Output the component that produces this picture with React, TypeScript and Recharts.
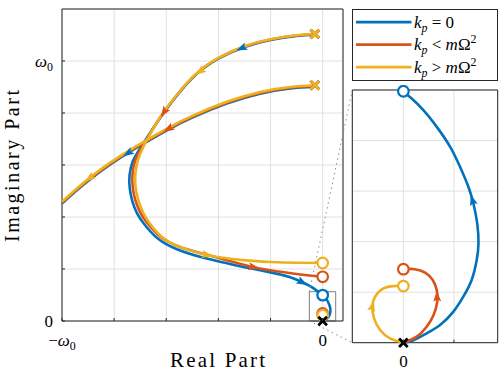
import React from 'react';
import {
  ComposedChart, Line, Scatter, XAxis, YAxis, CartesianGrid, ReferenceArea, ReferenceLine,
} from 'recharts';

const BLUE = '#0072BD';
const RED = '#D95319';
const YELLOW = '#EDB120';
const AX = '#262626';
const GRID = '#e0e0e0';
const FONT = '"Liberation Serif", "Times New Roman", serif';

// ---------- axes / labels ----------
const mainXDomain = [-1, 0.078];
const mainYDomain = [0, 1.2];
const mainXTicks = [-1, -0.8, -0.6, -0.4, -0.2, 0];
const mainXTickLabels = ['−ω_0', '', '', '', '', '0'];
const mainYTicks = [0, 0.2, 0.4, 0.6, 0.8, 1];
const mainYTickLabels = ['0', '', '', '', '', 'ω_0'];

const insetXDomain = [-0.0202, 0.0373];
const insetYDomain = [0, 0.1];
const insetXTicks = [0, 0.02];
const insetXTickLabels = ['0', ''];
const insetYTicks = [0.02, 0.04, 0.06, 0.08];

const xLabel = 'Real Part';
const yLabel = 'Imaginary Part';
const legendLabels = ['k_p = 0', 'k_p < mΩ^2', 'k_p > mΩ^2'];

// ---------- loci (units of ω0) ----------
const blueUpper = [
  [-0.03, 1.101], [-0.1, 1.096], [-0.2, 1.081], [-0.3, 1.054], [-0.4, 1.009], [-0.5, 0.934], [-0.6, 0.814],
  [-0.654, 0.736], [-0.699, 0.666], [-0.728, 0.615], [-0.741, 0.560], [-0.740, 0.510], [-0.730, 0.460],
  [-0.712, 0.414], [-0.687, 0.376], [-0.636, 0.320], [-0.559, 0.276], [-0.457, 0.243], [-0.380, 0.225],
  [-0.304, 0.208], [-0.2, 0.187], [-0.13, 0.170], [-0.08, 0.150], [-0.045, 0.132], [-0.018, 0.113], [0, 0.1],
];
const redUpper = [
  [-0.03, 1.103], [-0.1, 1.098], [-0.2, 1.083], [-0.3, 1.056], [-0.4, 1.011], [-0.5, 0.936], [-0.6, 0.816],
  [-0.652, 0.738], [-0.694, 0.668], [-0.720, 0.615], [-0.730, 0.560], [-0.728, 0.510], [-0.718, 0.463],
  [-0.700, 0.418], [-0.675, 0.380], [-0.623, 0.325], [-0.547, 0.285], [-0.444, 0.255], [-0.35, 0.229],
  [-0.279, 0.210], [-0.2, 0.195], [-0.1, 0.181], [-0.04, 0.174], [0, 0.170],
];
const yellowUpper = [
  [-0.03, 1.104], [-0.1, 1.099], [-0.2, 1.084], [-0.3, 1.057], [-0.4, 1.012], [-0.5, 0.937], [-0.6, 0.817],
  [-0.65, 0.740], [-0.688, 0.670], [-0.710, 0.615], [-0.719, 0.560], [-0.717, 0.510], [-0.707, 0.465],
  [-0.690, 0.420], [-0.667, 0.380], [-0.624, 0.330], [-0.560, 0.290], [-0.458, 0.257], [-0.380, 0.243],
  [-0.305, 0.234], [-0.2, 0.227], [-0.1, 0.224], [0, 0.223],
];
const yellowLower = [
  [-0.03, 0.907], [-0.125, 0.900], [-0.240, 0.881], [-0.368, 0.843], [-0.496, 0.791], [-0.585, 0.747],
  [-0.687, 0.689], [-0.777, 0.634], [-0.85, 0.584], [-0.925, 0.525], [-1.0, 0.459],
];
const redLower = [
  [-0.03, 0.904], [-0.125, 0.897], [-0.240, 0.877], [-0.368, 0.839], [-0.496, 0.787], [-0.585, 0.743],
  [-0.687, 0.685], [-0.777, 0.630], [-0.85, 0.580], [-0.925, 0.521], [-1.0, 0.455],
];
const blueLower = [
  [-0.03, 0.901], [-0.125, 0.894], [-0.240, 0.874], [-0.368, 0.836], [-0.496, 0.784], [-0.585, 0.740],
  [-0.687, 0.682], [-0.777, 0.627], [-0.85, 0.577], [-0.925, 0.518], [-1.0, 0.452],
];
const blueInner = [
  [0, 0], [0.004, 0.001], [0.0092, 0.0037], [0.0145, 0.007], [0.0198, 0.0123], [0.0237, 0.0182],
  [0.027, 0.0248], [0.029, 0.0327], [0.0297, 0.0393], [0.0292, 0.0472], [0.0277, 0.0551], [0.0257, 0.0617],
  [0.0224, 0.0696], [0.0185, 0.0775], [0.0132, 0.0854], [0.0079, 0.092], [0.0033, 0.0966], [0.0007, 0.0988],
  [0, 0.0995],
];
const redInner = [
  [0, 0], [0.0053, 0.0024], [0.0092, 0.0063], [0.0119, 0.0109], [0.0134, 0.0162], [0.0132, 0.0208],
  [0.0116, 0.0248], [0.0086, 0.0277], [0.0046, 0.0291], [0, 0.0291],
];
const yellowInner = [
  [0, 0], [-0.0053, 0.0017], [-0.0092, 0.005], [-0.0116, 0.0096], [-0.0123, 0.0142], [-0.0112, 0.0182],
  [-0.0079, 0.0215], [-0.004, 0.0224], [0, 0.0224],
];

// ---------- poles (x) and zeros (o) ----------
const offsetPoles = [[-0.03, 1.104], [-0.03, 0.907]];
const originPole = [[0, 0]];
const blueZeros = [[0, 0.0995]];
const redZeros = [[0, 0.170], [0, 0.0291]];
const yellowZeros = [[0, 0.223], [0, 0.0224]];

// ---------- direction arrows (positions along loci) ----------
const blueArrowsMain = [{ x: -0.31, y: 1.05, on: 'upper' }, { x: -0.08, y: 0.148, on: 'upper' }, { x: -0.751, y: 0.655, on: 'lower' }];
const redArrowsMain = [{ x: -0.617, y: 0.81, on: 'upper' }, { x: -0.266, y: 0.205, on: 'upper' }, { x: -0.592, y: 0.742, on: 'lower' }];
const yellowArrowsMain = [{ x: -0.47, y: 0.96, on: 'upper' }, { x: -0.444, y: 0.255, on: 'upper' }, { x: -0.892, y: 0.55, on: 'lower' }];
const blueArrowsInset = [{ x: 0.0276, y: 0.0564, on: 'inner' }];
const redArrowsInset = [{ x: 0.0132, y: 0.0182, on: 'inner' }];
const yellowArrowsInset = [{ x: -0.012, y: 0.0142, on: 'inner' }];

// ---------- zoom box and connectors ----------
const zoomBox = { x1: -0.051, x2: 0.05, y1: 0, y2: 0.1126 };
const connectors = [
  [[-0.051, 0.1126], [0.1134, 0.887]],
  [[-0.051, 0], [0.1134, -0.0834]],
];

type Pt = { x: number; y: number };
const pts = (a: number[][]): Pt[] => a.map(([x, y]) => ({ x, y }));

function project(line: Pt[], x: number, y: number) {
  let best = { d: Infinity, x, y, ang: 0 };
  for (let i = 0; i < line.length - 1; i++) {
    const a = line[i];
    const b = line[i + 1];
    const vx = b.x - a.x;
    const vy = b.y - a.y;
    const L2 = vx * vx + vy * vy;
    if (L2 === 0) continue;
    let t = ((x - a.x) * vx + (y - a.y) * vy) / L2;
    t = Math.max(0, Math.min(1, t));
    const px = a.x + t * vx;
    const py = a.y + t * vy;
    const d = (px - x) ** 2 + (py - y) ** 2;
    if (d < best.d) best = { d, x: px, y: py, ang: (Math.atan2(-vy, vx) * 180) / Math.PI };
  }
  return { x: best.x, y: best.y, ang: best.ang };
}

function Tex({ s, fs }: { s: string; fs: number }) {
  const out: React.ReactNode[] = [];
  let shift = 0;
  let i = 0;
  let k = 0;
  while (i < s.length) {
    let ch = s[i];
    let target = 0;
    let size = fs;
    if ((ch === '_' || ch === '^') && i + 1 < s.length) {
      target = ch === '_' ? fs * 0.25 : -fs * 0.4;
      ch = s[i + 1];
      size = fs * 0.7;
      i += 2;
    } else i += 1;
    const italic = /[A-Za-zα-ω]/.test(ch);
    out.push(
      <tspan key={k++} dy={target - shift} fontSize={size} fontStyle={italic ? 'italic' : 'normal'}>
        {ch === ' ' ? '\u2005' : ch}
      </tspan>,
    );
    shift = target;
  }
  return <>{out}</>;
}

const Arrow = ({ cx, cy, ang, color }: any) => {
  if (cx == null || cy == null) return null;
  const L = 11;
  const W = 8;
  return (
    <polygon
      transform={`translate(${cx},${cy}) rotate(${ang})`}
      points={`${L * 0.55},0 ${-L * 0.45},${-W / 2} ${-L * 0.25},0 ${-L * 0.45},${W / 2}`}
      fill={color}
    />
  );
};
const Ring = ({ cx, cy, color }: any) =>
  cx == null ? null : <circle cx={cx} cy={cy} r={5.3} fill="#fff" stroke={color} strokeWidth={2.2} />;
const Cross = ({ cx, cy, color }: any) => {
  if (cx == null) return null;
  const s = 4.3;
  return (
    <g stroke={color} strokeWidth={2.8}>
      <line x1={cx - s} y1={cy - s} x2={cx + s} y2={cy + s} />
      <line x1={cx - s} y1={cy + s} x2={cx + s} y2={cy - s} />
    </g>
  );
};

function lineEl(key: string, data: Pt[], color: string) {
  return (
    <Line
      key={key}
      data={data}
      dataKey="y"
      type="natural"
      stroke={color}
      strokeWidth={2.6}
      dot={false}
      activeDot={false}
      isAnimationActive={false}
      legendType="none"
    />
  );
}
function markerEl(key: string, data: number[][], color: string, kind: 'ring' | 'cross') {
  return (
    <Scatter
      key={key}
      data={pts(data)}
      isAnimationActive={false}
      shape={(p: any) => (kind === 'ring' ? <Ring cx={p.cx} cy={p.cy} color={color} /> : <Cross cx={p.cx} cy={p.cy} color={color} />)}
    />
  );
}
function arrowEl(key: string, arrows: { x: number; y: number; on: string }[], lines: Record<string, Pt[]>, color: string) {
  const data = arrows.map((a) => project(lines[a.on], a.x, a.y));
  return (
    <Scatter
      key={key}
      data={data}
      isAnimationActive={false}
      shape={(p: any) => <Arrow cx={p.cx} cy={p.cy} ang={p.payload.ang} color={color} />}
    />
  );
}

const series = [
  { color: BLUE, upper: pts(blueUpper), lower: pts(blueLower), inner: pts(blueInner), zeros: blueZeros, am: blueArrowsMain, ai: blueArrowsInset },
  { color: RED, upper: pts(redUpper), lower: pts(redLower), inner: pts(redInner), zeros: redZeros, am: redArrowsMain, ai: redArrowsInset },
  { color: YELLOW, upper: pts(yellowUpper), lower: pts(yellowLower), inner: pts(yellowInner), zeros: yellowZeros, am: yellowArrowsMain, ai: yellowArrowsInset },
];

const MainXTick = (p: any) => {
  const { x, y, payload } = p;
  const lab = mainXTickLabels[mainXTicks.indexOf(payload.value)];
  return (
    <g>
      <line x1={x} x2={x} y1={y} y2={y - 3} stroke={AX} />
      {lab ? (
        <text x={x} y={y + 25} textAnchor="middle" fontSize={17} fontFamily={FONT} fill="#000">
          <Tex s={lab} fs={17} />
        </text>
      ) : null}
    </g>
  );
};
const MainYTick = (p: any) => {
  const { x, y, payload } = p;
  const lab = mainYTickLabels[mainYTicks.indexOf(payload.value)];
  return (
    <g>
      <line x1={x} x2={x + 3} y1={y} y2={y} stroke={AX} />
      {lab ? (
        <text x={x - 9} y={y + 5.5} textAnchor="end" fontSize={17} fontFamily={FONT} fill="#000">
          <Tex s={lab} fs={17} />
        </text>
      ) : null}
    </g>
  );
};
const InsetXTick = (p: any) => {
  const { x, y, payload } = p;
  const lab = insetXTickLabels[insetXTicks.indexOf(payload.value)];
  return (
    <g>
      <line x1={x} x2={x} y1={y} y2={y - 3} stroke={AX} />
      {lab ? (
        <text x={x} y={y + 24} textAnchor="middle" fontSize={17} fontFamily={FONT} fill="#000">
          <Tex s={lab} fs={17} />
        </text>
      ) : null}
    </g>
  );
};
const InsetYTick = (p: any) => {
  const { x, y } = p;
  return <line x1={x} x2={x + 3} y1={y} y2={y} stroke={AX} />;
};

function LegendBox() {
  const colors = [BLUE, RED, YELLOW];
  return (
    <svg width={147} height={73} style={{ position: 'absolute', left: 352, top: 8.5 }}>
      <rect x={0.5} y={0.5} width={145} height={71} fill="#fff" stroke={AX} strokeWidth={1} />
      {legendLabels.map((lab, i) => {
        const y = 13.2 + i * 22.5;
        return (
          <g key={i}>
            <line x1={4} x2={59.5} y1={y} y2={y} stroke={colors[i]} strokeWidth={2.8} />
            <text x={62} y={y + 5.5} fontSize={17} fontFamily={FONT} fill="#000">
              <Tex s={lab} fs={17} />
            </text>
          </g>
        );
      })}
    </svg>
  );
}

export default function App() {
  return (
    <div style={{ position: 'absolute', left: 0, top: 0, width: 499, height: 371, background: '#fff', fontFamily: FONT }}>
      <div style={{ position: 'absolute', left: 0, top: 0 }}>
        <ComposedChart width={499} height={371} margin={{ top: 9, right: 156, bottom: 20, left: 12 }}>
          <CartesianGrid stroke={GRID} strokeWidth={1} />
          <XAxis
            dataKey="x"
            type="number"
            domain={mainXDomain}
            ticks={mainXTicks}
            interval={0}
            height={30}
            tickSize={0}
            tickMargin={0}
            axisLine={false}
            tickLine={false}
            tick={(p: any) => <MainXTick {...p} />}
            label={{
              content: (lp: any) => {
                const vb = lp.viewBox || { x: 62, y: 321, width: 281, height: 30 };
                return (
                  <text x={vb.x + vb.width / 2 + 15} y={vb.y + 46} textAnchor="middle" fontSize={21} fontFamily={FONT} fill="#000" textLength={95} lengthAdjust="spacing">
                    {xLabel}
                  </text>
                );
              },
            }}
          />
          <YAxis
            dataKey="y"
            type="number"
            domain={mainYDomain}
            ticks={mainYTicks}
            interval={0}
            width={50}
            tickSize={0}
            tickMargin={0}
            axisLine={false}
            tickLine={false}
            tick={(p: any) => <MainYTick {...p} />}
            label={{
              content: (lp: any) => {
                const vb = lp.viewBox || { x: 12, y: 9, width: 50, height: 312 };
                return (
                  <text
                    transform={`translate(${vb.x + 7},${vb.y + vb.height / 2 + 1}) rotate(-90)`}
                    textAnchor="middle"
                    fontSize={20}
                    fontFamily={FONT}
                    fill="#000"
                    textLength={152}
                    lengthAdjust="spacing"
                  >
                    {yLabel}
                  </text>
                );
              },
            }}
          />
          {series.map((s, i) => [
            lineEl(`mu${i}`, s.upper, s.color),
            lineEl(`ml${i}`, s.lower, s.color),
            lineEl(`mi${i}`, s.inner, s.color),
          ])}
          {series.map((s, i) => arrowEl(`ma${i}`, s.am, { upper: s.upper, lower: s.lower, inner: s.inner }, s.color))}
          {series.map((s, i) => [
            markerEl(`mz${i}`, s.zeros, s.color, 'ring'),
            markerEl(`mp${i}`, offsetPoles, s.color, 'cross'),
          ])}
          {markerEl('morig', originPole, '#000', 'cross')}
          <ReferenceArea x1={zoomBox.x1} x2={zoomBox.x2} y1={zoomBox.y1} y2={zoomBox.y2} fill="none" stroke="#7f7f7f" strokeWidth={1} fillOpacity={0} />
          {connectors.map((c, i) => (
            <ReferenceLine
              key={`c${i}`}
              segment={[{ x: c[0][0], y: c[0][1] }, { x: c[1][0], y: c[1][1] }]}
              ifOverflow="visible"
              stroke="#8a8a8a"
              strokeWidth={1}
              strokeDasharray="1.5 3.5"
            />
          ))}
          <ReferenceArea x1={mainXDomain[0]} x2={mainXDomain[1]} y1={mainYDomain[0]} y2={mainYDomain[1]} fill="none" fillOpacity={0} stroke={AX} strokeWidth={1} />
        </ComposedChart>
      </div>

      <div style={{ position: 'absolute', left: 345, top: 85 }}>
        <ComposedChart width={154} height={286} margin={{ top: 5, right: 1.3, bottom: 4.3, left: 7.3 }}>
          <CartesianGrid stroke={GRID} strokeWidth={1} fill="#fff" />
          <XAxis
            dataKey="x"
            type="number"
            domain={insetXDomain}
            ticks={insetXTicks}
            interval={0}
            height={24}
            tickSize={0}
            tickMargin={0}
            axisLine={false}
            tickLine={false}
            tick={(p: any) => <InsetXTick {...p} />}
          />
          <YAxis
            dataKey="y"
            type="number"
            domain={insetYDomain}
            ticks={insetYTicks}
            interval={0}
            width={0}
            tickSize={0}
            tickMargin={0}
            axisLine={false}
            tickLine={false}
            tick={(p: any) => <InsetYTick {...p} />}
          />
          {series.map((s, i) => lineEl(`ii${i}`, s.inner, s.color))}
          {series.map((s, i) => arrowEl(`ia${i}`, s.ai, { inner: s.inner }, s.color))}
          {series.map((s, i) => markerEl(`iz${i}`, s.zeros.filter((z) => z[1] <= insetYDomain[1]), s.color, 'ring'))}
          {markerEl('iorig', originPole, '#000', 'cross')}
          <ReferenceArea x1={insetXDomain[0]} x2={insetXDomain[1]} y1={insetYDomain[0]} y2={insetYDomain[1]} fill="none" fillOpacity={0} stroke={AX} strokeWidth={1} />
        </ComposedChart>
      </div>

      <LegendBox />
    </div>
  );
}
